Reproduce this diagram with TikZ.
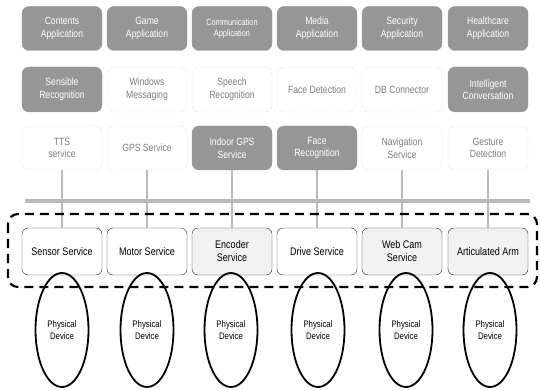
\documentclass[tikz,border=0pt]{standalone}
\usepackage{fontspec}
\setmainfont{Liberation Sans}
\newfontfamily\narrowfont[FakeStretch=0.82]{Liberation Sans}
\definecolor{appgray}{RGB}{150,150,150}
\definecolor{modtext}{RGB}{125,125,125}
\definecolor{busgray}{RGB}{185,185,185}
\usetikzlibrary{shapes.geometric}

\tikzset{
  appbox/.style={draw=gray!80, rounded corners=7pt, fill=appgray, text=white, minimum width=80pt, minimum height=44pt, align=center, inner sep=1pt, font=\narrowfont\fontsize{10.5}{12.5}\selectfont},
  modbox/.style={draw=gray!55, densely dotted, rounded corners=7pt, fill=white, text=modtext, minimum width=80pt, minimum height=44pt, align=center, inner sep=1pt, font=\narrowfont\fontsize{10.5}{12.5}\selectfont},
  svcbox/.style={draw=black!85, rounded corners=6pt, minimum width=80pt, minimum height=47pt, align=center, inner sep=1pt, font=\narrowfont\fontsize{11}{13}\selectfont},
  devnode/.style={draw, ellipse, line width=1.8pt, minimum width=53pt, minimum height=114pt, align=center, font=\narrowfont\fontsize{9.5}{12}\selectfont},
  link/.style={line width=2.5pt, busgray}
}

\begin{document}
\begin{tikzpicture}[x=1pt, y=-1pt]
    \useasboundingbox (0,0) rectangle (540,390);

    % Application row
    \node[appbox] (contents) at (62,28.5) {Contents\\Application};
    \node[appbox] (game) at (147,28.5) {Game\\Application};
    \node[appbox, font=\narrowfont\fontsize{9}{11}\selectfont] (comm) at (232,28.5) {Communication\\Application};
    \node[appbox] (media) at (317,28.5) {Media\\Application};
    \node[appbox] (security) at (402,28.5) {Security\\Application};
    \node[appbox] (health) at (488,28.5) {Healthcare\\Application};

    % Second module row
    \node[appbox, minimum height=45pt] (sensible) at (62,89.5) {Sensible\\Recognition};
    \node[modbox, minimum height=45pt] (windows) at (147,89.5) {Windows\\Messaging};
    \node[modbox, minimum height=45pt] (speech) at (232,89.5) {Speech\\Recognition};
    \node[modbox, minimum height=45pt] (facedet) at (317,89.5) {Face Detection};
    \node[modbox, minimum height=45pt] (db) at (402,89.5) {DB Connector};
    \node[appbox, minimum height=45pt] (conv) at (488,89.5) {Intelligent\\Conversation};

    % Third module row
    \node[modbox] (tts) at (62,148) {TTS\\service};
    \node[modbox] (gps) at (147,148) {GPS Service};
    \node[appbox] (indoor) at (232,148) {Indoor GPS\\Service};
    \node[appbox] (facerec) at (317,148) {Face\\Recognition};
    \node[modbox] (nav) at (402,148) {Navigation\\Service};
    \node[modbox] (gesture) at (488,148) {Gesture\\Detection};

    % Service row
    \node[svcbox, fill=white] (sensor) at (62,251.5) {Sensor Service};
    \node[svcbox, fill=white] (motor) at (147,251.5) {Motor Service};
    \node[svcbox, fill=gray!10] (encoder) at (232,251.5) {Encoder\\Service};
    \node[svcbox, fill=white] (drive) at (317,251.5) {Drive Service};
    \node[svcbox, fill=gray!10] (webcam) at (402,251.5) {Web Cam\\Service};
    \node[svcbox, fill=gray!10] (arm) at (488,251.5) {Articulated Arm};

    % Links and bus
    \draw[link] (tts.south) -- (sensor.north);
    \draw[link] (gps.south) -- (motor.north);
    \draw[link] (indoor.south) -- (encoder.north);
    \draw[link] (facerec.south) -- (drive.north);
    \draw[link] (nav.south) -- (webcam.north);
    \draw[link] (gesture.south) -- (arm.north);
    \coordinate (busl) at (25,201);
    \coordinate (busr) at (530,201);
    \draw[line width=3.5pt, busgray] (busl) -- (busr);

    % Service layer
    \coordinate (layertl) at (8,214);
    \coordinate (layerbr) at (537,287);
    \draw[line width=2.2pt, dash pattern=on 9pt off 6pt, rounded corners=10pt] (layertl) rectangle (layerbr);

    % Physical devices
    \node[devnode] (dev1) at (62,330) {Physical\\Device};
    \node[devnode] (dev2) at (147,330) {Physical\\Device};
    \node[devnode] (dev3) at (231,330) {Physical\\Device};
    \node[devnode] (dev4) at (318,330) {Physical\\Device};
    \node[devnode] (dev5) at (406,330) {Physical\\Device};
    \node[devnode] (dev6) at (490,330) {Physical\\Device};
\end{tikzpicture}
\end{document}
